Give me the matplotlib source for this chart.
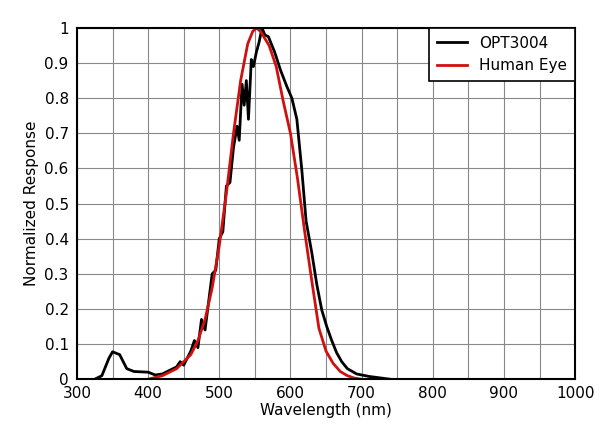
import numpy as np
import matplotlib.pyplot as plt

opt_nm = [325, 335, 345, 350, 360, 370, 380, 400, 410, 420, 430, 440, 445, 450, 455,
          460, 465, 470, 475, 480, 485, 490, 495, 500, 505, 510, 515, 520, 525, 528,
          532, 535, 538, 541, 545, 548, 552, 556, 560, 564, 569, 578, 586, 595, 602,
          609, 616, 622, 630, 637, 644, 651, 658, 665, 672, 680, 693, 710, 740]
opt_val = [0.0, 0.01, 0.06, 0.078, 0.07, 0.03, 0.022, 0.02, 0.012, 0.015, 0.025, 0.035, 0.05, 0.04, 0.06,
           0.08, 0.11, 0.09, 0.17, 0.14, 0.22, 0.30, 0.31, 0.40, 0.42, 0.55, 0.56, 0.66, 0.72, 0.68,
           0.84, 0.78, 0.85, 0.74, 0.91, 0.89, 0.93, 0.96, 1.0, 0.98, 0.975, 0.93, 0.88, 0.833, 0.80,
           0.74, 0.595, 0.45, 0.36, 0.27, 0.197, 0.15, 0.11, 0.075, 0.05, 0.03, 0.015, 0.008, 0.0]

# Human eye photopic response
eye_nm = [400, 420, 440, 460, 470, 480, 490, 500, 510, 520, 530, 540, 547, 552, 558,
          570, 580, 590, 600, 610, 620, 630, 640, 650, 660, 670, 680, 690, 700]
eye_val = [0.0, 0.01, 0.03, 0.07, 0.11, 0.17, 0.26, 0.38, 0.53, 0.70, 0.85, 0.955, 0.99, 1.0, 0.99,
           0.95, 0.89, 0.79, 0.70, 0.57, 0.42, 0.28, 0.145, 0.08, 0.045, 0.022, 0.01, 0.003, 0.0]

fig = plt.figure(figsize=(6.06, 4.43), dpi=100)
ax = fig.add_axes([0.127, 0.144, 0.822, 0.793])

ax.plot(opt_nm, opt_val, color='black', lw=2, label='OPT3004')
ax.plot(eye_nm, eye_val, color='#d01010', lw=2, label='Human Eye')

ax.set_xlim(300, 1000)
ax.set_ylim(0, 1)
ax.set_xticks(np.arange(300, 1001, 100))
ax.set_xticks(np.arange(300, 1001, 50), minor=True)
ax.set_yticks(np.arange(0, 1.01, 0.1))
ax.set_yticklabels(['0', '0.1', '0.2', '0.3', '0.4', '0.5', '0.6', '0.7', '0.8', '0.9', '1'])
ax.grid(True, which='both', color='#888888', lw=0.8)
ax.tick_params(which='both', length=0, labelsize=11)
ax.tick_params(axis='y', pad=6)
ax.tick_params(axis='x', pad=5)
for s in ax.spines.values():
    s.set_linewidth(1.5)

ax.set_xlabel('Wavelength (nm)', fontsize=11, labelpad=1)
ax.set_ylabel('Normalized Response', fontsize=11)

leg = ax.legend(loc='upper right', fontsize=11, fancybox=False, framealpha=1,
                borderaxespad=0, handlelength=2, borderpad=0.5)
leg.get_frame().set_edgecolor('black')
leg.get_frame().set_linewidth(1.2)

fig.savefig('out.png', dpi=100)
